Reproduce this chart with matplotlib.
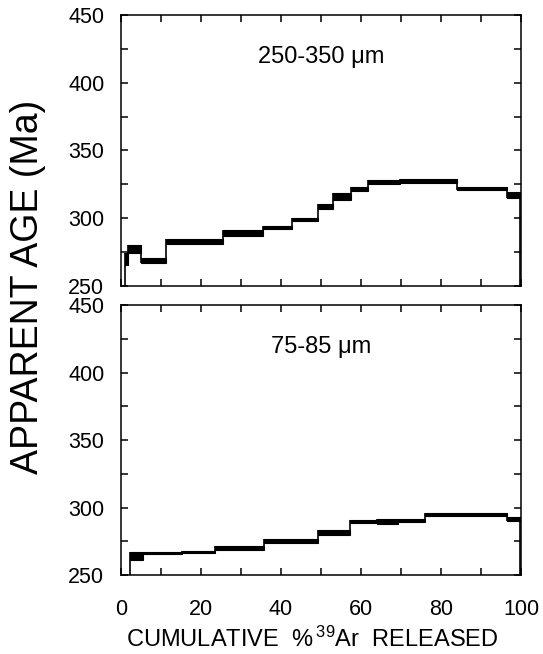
import numpy as np
import matplotlib
matplotlib.use('Agg')
import matplotlib.pyplot as plt
from matplotlib.ticker import MultipleLocator

plt.rcParams['font.family'] = ['Liberation Sans', 'DejaVu Sans']
plt.rcParams['mathtext.fontset'] = 'custom'
plt.rcParams['mathtext.rm'] = 'Liberation Sans'
plt.rcParams['mathtext.it'] = 'Liberation Sans:italic'

# step boundaries (cumulative % 39Ar), apparent ages and 1-sigma errors (Ma)
coarse_edges = [0, 1.0, 1.8, 4.9, 11.2, 25.6, 35.4, 42.7, 49.2, 53.1, 57.5,
                61.7, 69.8, 84.0, 96.5, 99.7, 100]
coarse_age = [240, 270, 277.3, 268.7, 283, 289, 293.3, 299.2, 308.8, 316,
              321.9, 326.7, 327.7, 321.8, 317.3, 240]
coarse_err = [5, 4.5, 3, 2, 2, 2, 1.3, 0.9, 2, 2.4, 1.5, 1.5, 1.6, 1, 2, 5]

fine_edges = [0, 2.2, 5.6, 15.2, 23.5, 35.8, 49.3, 57.2, 63.9, 69.3, 76.0,
              96.4, 99.7, 100]
fine_age = [240, 264, 266.1, 267, 270.1, 275.2, 281.5, 289.6, 289.6, 290.5,
            294.6, 291.7, 240]
fine_err = [5, 3, 0.9, 0.9, 1.6, 1.2, 1.9, 1, 1.8, 1, 1.1, 1.5, 5]

samples = [('250-350 μm', coarse_edges, coarse_age, coarse_err),
           ('75-85 μm', fine_edges, fine_age, fine_err)]

fig = plt.figure(figsize=(5.43, 6.54), dpi=100)
ax_top = fig.add_axes([0.2228, 0.5627, 0.7366, 0.4144])
ax_bot = fig.add_axes([0.2228, 0.1208, 0.7366, 0.4128])


def spectrum(ax, label, edges, age, err):
    edges = np.array(edges)
    age = np.array(age)
    err = np.array(err)
    lo = age - err
    hi = age + err
    ax.bar(edges[:-1], hi - lo, width=np.diff(edges), bottom=lo, align='edge',
           color='black', edgecolor='black', linewidth=0.8)
    # vertical risers joining neighbouring steps
    for i in range(1, len(age)):
        ax.vlines(edges[i], min(lo[i - 1], lo[i]), max(hi[i - 1], hi[i]),
                  color='black', linewidth=1.2)

    ax.set_xlim(0, 100)
    ax.set_ylim(250, 450)
    ax.xaxis.set_major_locator(MultipleLocator(20))
    ax.xaxis.set_minor_locator(MultipleLocator(10))
    ax.yaxis.set_major_locator(MultipleLocator(50))
    ax.yaxis.set_minor_locator(MultipleLocator(25))
    ax.tick_params(which='both', direction='in', top=True, right=True,
                   width=1.1, length=5, labelsize=15.5)
    ax.tick_params(axis='y', pad=12)
    ax.tick_params(axis='x', pad=17)
    for s in ax.spines.values():
        s.set_linewidth(1.1)
    ax.text(50, 419, label, ha='center', va='center', fontsize=17)


for ax, (label, edges, age, err) in zip([ax_top, ax_bot], samples):
    spectrum(ax, label, edges, age, err)

ax_top.tick_params(axis='x', labelbottom=False)

fig.text(0.5746, 0.011, 'CUMULATIVE  %$\\,^{39}$Ar  RELEASED', ha='center',
         va='baseline', fontsize=17)
fig.text(0.052, 0.561, 'APPARENT AGE (Ma)', rotation=90, ha='center',
         va='center', fontsize=27)

plt.savefig('out.png', dpi=100)
